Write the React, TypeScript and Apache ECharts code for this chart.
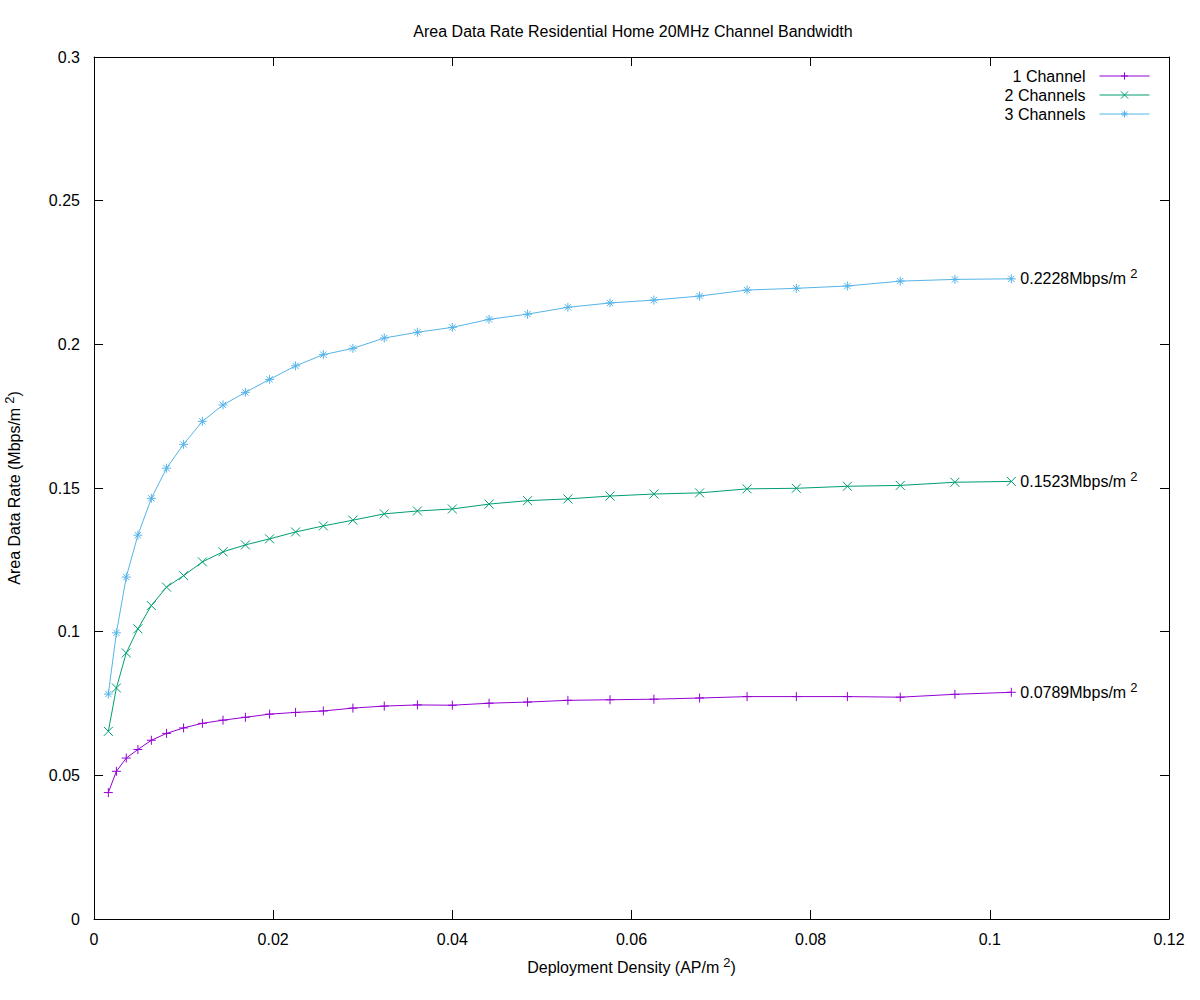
import React, { useEffect, useRef } from 'react';
import * as echarts from 'echarts';

const densities = [0.0016, 0.0025, 0.0036, 0.0049, 0.0064, 0.0081, 0.01, 0.0121, 0.0144, 0.0169, 0.0196, 0.0225, 0.0256, 0.0289, 0.0324, 0.0361, 0.04, 0.0441, 0.0484, 0.0529, 0.0576, 0.0625, 0.0676, 0.0729, 0.0784, 0.0841, 0.09, 0.0961, 0.1024];

const oneChannel = [0.0440, 0.0514, 0.0560, 0.0590, 0.0622, 0.0646, 0.0665, 0.0681, 0.0692, 0.0702, 0.0713, 0.0719, 0.0724, 0.0734, 0.0741, 0.0745, 0.0744, 0.0751, 0.0755, 0.0761, 0.0763, 0.0765, 0.0769, 0.0774, 0.0774, 0.0774, 0.0772, 0.0782, 0.0789];
const twoChannels = [0.0653, 0.0804, 0.0926, 0.1010, 0.1091, 0.1155, 0.1195, 0.1243, 0.1278, 0.1302, 0.1323, 0.1347, 0.1368, 0.1388, 0.1410, 0.1420, 0.1427, 0.1444, 0.1456, 0.1462, 0.1472, 0.1479, 0.1483, 0.1497, 0.1499, 0.1506, 0.1509, 0.1520, 0.1523];
const threeChannels = [0.0783, 0.0996, 0.1190, 0.1336, 0.1464, 0.1569, 0.1652, 0.1732, 0.1789, 0.1833, 0.1878, 0.1925, 0.1964, 0.1986, 0.2022, 0.2042, 0.2059, 0.2087, 0.2105, 0.2129, 0.2144, 0.2154, 0.2168, 0.2189, 0.2195, 0.2203, 0.2220, 0.2226, 0.2228];

const seriesNames = ['1 Channel', '2 Channels', '3 Channels'];
const seriesColors = ['#9400d3', '#009e73', '#56b4e9'];

const FONT = 'Liberation Sans, Arial, sans-serif';
const FS = 16;

const SYM_PLUS = 'path://M0,5L10,5M5,0L5,10';
const SYM_X = 'path://M0,0L10,10M10,0L0,10';
const SYM_STAR = 'path://M0,5L10,5M5,0L5,10M1.5,1.5L8.5,8.5M8.5,1.5L1.5,8.5';
const symbols = [SYM_PLUS, SYM_X, SYM_STAR];

const richText = {
  a: { fontSize: FS, color: '#000', fontFamily: FONT },
  s: { fontSize: 13, color: '#000', fontFamily: FONT, padding: [0, 0, 10, 4] },
};

export default function App() {
  const ref = useRef<HTMLDivElement>(null);
  useEffect(() => {
    if (!ref.current) return;
    const chart = echarts.init(ref.current, undefined, { renderer: 'svg' });
    const allData = [oneChannel, twoChannels, threeChannels];
    const series = allData.map((vals, si) => ({
      name: seriesNames[si],
      type: 'line',
      symbol: symbols[si],
      symbolSize: 9,
      showAllSymbol: true,
      lineStyle: { color: seriesColors[si], width: 1 },
      itemStyle: { color: seriesColors[si], borderColor: seriesColors[si], borderWidth: 1 },
      emphasis: { disabled: true },
      data: vals.map((v, i) => {
        if (i === vals.length - 1) {
          return {
            value: [densities[i], v],
            label: {
              show: true,
              position: 'right',
              distance: 4,
              formatter: `{a|${v.toFixed(4)}Mbps/m}{s|2}`,
              rich: richText,
            },
          };
        }
        return [densities[i], v];
      }),
    }));
    const mkLine = () => ({ show: true, onZero: false, lineStyle: { color: '#000', width: 1 } });
    const mkTick = () => ({ show: true, inside: true, length: 9, lineStyle: { color: '#000' } });
    chart.setOption({
      animation: false,
      backgroundColor: '#fff',
      title: {
        text: 'Area Data Rate Residential Home 20MHz Channel Bandwidth',
        left: 628,
        textAlign: 'center',
        top: 18,
        textStyle: { fontSize: FS, fontWeight: 'normal', color: '#000', fontFamily: FONT },
      },
      legend: {
        orient: 'vertical',
        right: 50,
        top: 68,
        padding: 0,
        align: 'right',
        itemWidth: 50,
        itemHeight: 9,
        itemGap: 3,
        data: seriesNames,
        lineStyle: { width: 1 },
        itemStyle: { borderWidth: 1 },
        textStyle: { fontSize: FS, color: '#000', fontFamily: FONT, padding: [0, 9, 0, 0] },
      },
      grid: { left: 94, right: 31, top: 57, bottom: 81, containLabel: false, outerBoundsMode: 'none' },
      xAxis: [
        {
          type: 'value',
          min: 0,
          max: 0.12,
          interval: 0.02,
          position: 'bottom',
          axisLine: mkLine(),
          axisTick: mkTick(),
          splitLine: { show: false },
          axisLabel: { color: '#000', fontSize: FS, margin: 12, fontFamily: FONT },
          name: '{a|Deployment Density (AP/m}{s|2}{a|)}',
          nameLocation: 'middle',
          nameGap: 37,
          nameTextStyle: { rich: richText },
        },
        {
          type: 'value',
          min: 0,
          max: 0.12,
          interval: 0.02,
          position: 'top',
          axisLine: mkLine(),
          axisTick: mkTick(),
          splitLine: { show: false },
          axisLabel: { show: false },
        },
      ],
      yAxis: [
        {
          type: 'value',
          min: 0,
          max: 0.3,
          interval: 0.05,
          position: 'left',
          axisLine: mkLine(),
          axisTick: mkTick(),
          splitLine: { show: false },
          axisLabel: { color: '#000', fontSize: FS, margin: 14, fontFamily: FONT },
          name: '{a|Area Data Rate (Mbps/m}{s|2}{a|)}',
          nameLocation: 'middle',
          nameGap: 68,
          nameTextStyle: { rich: richText },
        },
        {
          type: 'value',
          min: 0,
          max: 0.3,
          interval: 0.05,
          position: 'right',
          axisLine: mkLine(),
          axisTick: mkTick(),
          splitLine: { show: false },
          axisLabel: { show: false },
        },
      ],
      series,
    });
    return () => chart.dispose();
  }, []);
  return (
    <div
      ref={ref}
      style={{ position: 'fixed', left: 0, top: 0, width: 1200, height: 1000, background: '#fff' }}
    />
  );
}
